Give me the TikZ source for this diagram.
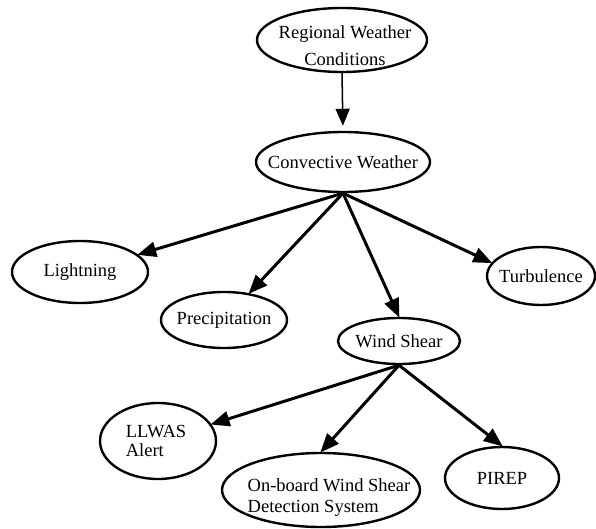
\documentclass[tikz,border=0pt]{standalone}
\usepackage{fontspec}
\setmainfont{Liberation Serif}
\usetikzlibrary{shapes.geometric,arrows.meta}
\tikzset{
  ebox/.style={ellipse,draw,line width=2.4pt,inner sep=0pt},
  etext/.style={align=center,inner sep=0pt,font=\fontsize{18.5}{22}\selectfont},
  conn/.style={line width=3pt,-{Triangle[length=19pt,width=15pt]},shorten >=-1pt},
  thinconn/.style={line width=1.5pt,-{Triangle[length=17pt,width=14pt]},shorten >=5pt}
}
\begin{document}
\begin{tikzpicture}[x=1pt,y=-1pt]
\useasboundingbox (0,0) rectangle (596,529);
% ellipses
\node[ebox,minimum width=170pt,minimum height=64pt] (reg) at (342,40) {};
\node[ebox,minimum width=174pt,minimum height=60pt] (conv) at (343,162) {};
\node[ebox,minimum width=136pt,minimum height=62pt] (light) at (80,272) {};
\node[ebox,minimum width=126pt,minimum height=56pt] (precip) at (224,320) {};
\node[ebox,minimum width=108pt,minimum height=58pt] (turb) at (541,276) {};
\node[ebox,minimum width=122pt,minimum height=46pt] (ws) at (399,341) {};
\node[ebox,minimum width=116pt,minimum height=76pt] (llwas) at (158,441) {};
\node[ebox,minimum width=198pt,minimum height=74pt] (onb) at (321,490) {};
\node[ebox,minimum width=114pt,minimum height=62pt] (pirep) at (502,478) {};
% texts
\node[etext,font=\fontsize{18.5}{27}\selectfont] (reg-t) at (345,46) {Regional Weather\\Conditions};
\node[etext] (conv-t) at (conv.center) {Convective Weather};
\node[etext] (light-t) at (light.center) {Lightning};
\node[etext] (precip-t) at (precip.center) {Precipitation};
\node[etext] (turb-t) at (turb.center) {Turbulence};
\node[etext] (ws-t) at (ws.center) {Wind Shear};
\node[etext,align=left,font=\fontsize{18.5}{19}\selectfont] (llwas-t) at (156,441) {LLWAS\\Alert};
\node[etext,align=left,font=\fontsize{18.5}{21}\selectfont] (onb-t) at (329,498) {On-board Wind Shear\\Detection System};
\node[etext] (pirep-t) at (pirep.center) {PIREP};
% connectors
\draw[thinconn] (reg.south) -- (conv.north);
\draw[conn] (conv.south) -- (light);
\draw[conn] (conv.south) -- (precip);
\draw[conn] (conv.south) -- (ws.north);
\draw[conn] (conv.south) -- (turb.165);
\draw[conn] (ws.south) -- (llwas);
\draw[conn] (ws.south) -- (onb.north);
\draw[conn] (ws.south) -- (pirep.north);
\end{tikzpicture}
\end{document}
